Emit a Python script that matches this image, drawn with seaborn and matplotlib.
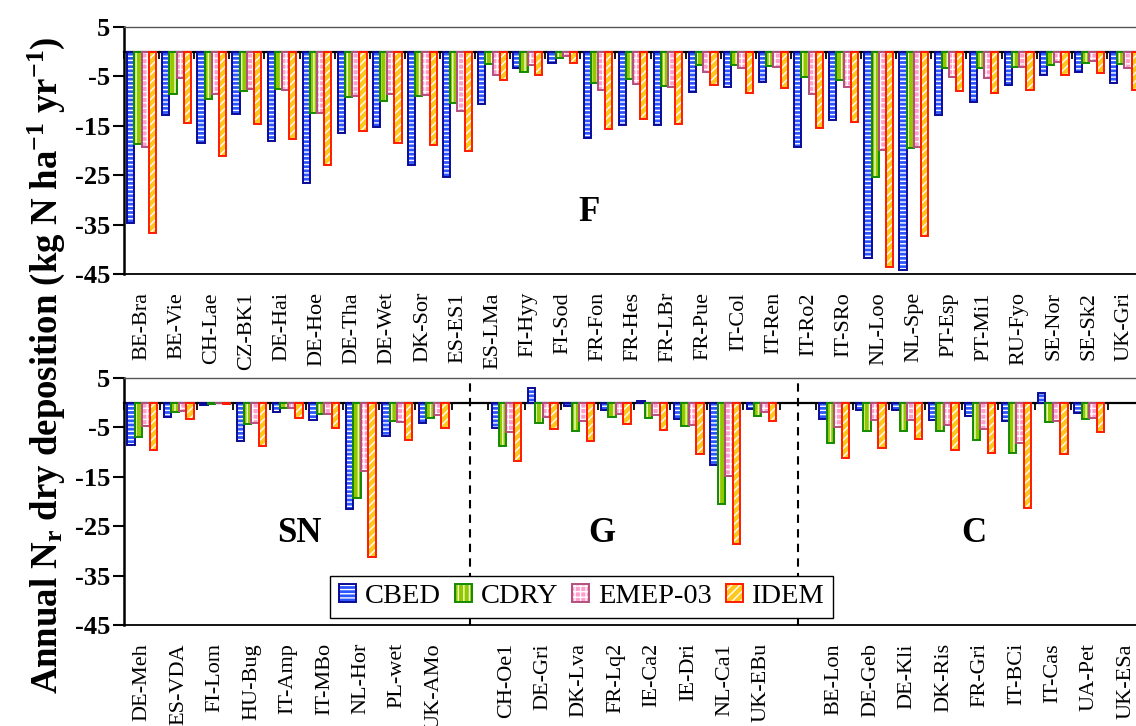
import numpy as np
import pandas as pd
import matplotlib
matplotlib.use("Agg")
import matplotlib.pyplot as plt
from matplotlib.patches import Rectangle, Patch
from matplotlib.legend_handler import HandlerTuple
from matplotlib import font_manager as fm
import seaborn as sns

nan = np.nan

models = ["CBED", "CDRY", "EMEP-03", "IDEM"]

# ---------------- Top panel (F) ----------------
sites_F = ["BE-Bra", "BE-Vie", "CH-Lae", "CZ-BK1", "DE-Hai", "DE-Hoe", "DE-Tha", "DE-Wet",
           "DK-Sor", "ES-ES1", "ES-LMa", "FI-Hyy", "FI-Sod", "FR-Fon", "FR-Hes", "FR-LBr",
           "FR-Pue", "IT-Col", "IT-Ren", "IT-Ro2", "IT-SRo", "NL-Loo", "NL-Spe", "PT-Esp",
           "PT-Mi1", "RU-Fyo", "SE-Nor", "SE-Sk2", "UK-Gri"]
cbed_F = [-34.6, -12.9, -18.5, -12.7, -18.1, -26.6, -16.4, -15.2, -23.0, -25.4, -10.5, -3.4,
          -2.2, -17.5, -14.8, -14.9, -8.1, -7.1, -6.2, -19.2, -13.9, -41.8, -44.1, -12.8,
          -10.2, -6.8, -4.7, -4.1, -6.3]
cdry_F = [-18.6, -8.6, -9.6, -7.9, -7.5, -12.5, -9.1, -10.0, -8.9, -10.4, -2.4, -4.2,
          -1.2, -6.4, -5.6, -7.0, -2.6, -2.7, -2.9, -5.2, -5.8, -25.4, -19.5, -3.4,
          -3.4, -3.0, -2.6, -2.2, -2.5]
emep_F = [-19.3, -5.4, -8.5, -7.5, -7.8, -12.4, -9.0, -8.5, -8.8, -12.1, -4.7, -2.6,
          -0.9, -7.8, -6.6, -7.2, -4.1, -3.4, -3.0, -8.6, -7.1, -19.8, -19.2, -5.1,
          -5.4, -3.0, -2.0, -1.8, -3.3]
idem_F = [-36.8, -14.4, -21.1, -14.7, -17.6, -23.0, -16.0, -18.4, -18.8, -20.2, -5.8, -4.7,
          -2.3, -15.6, -13.7, -14.6, -6.7, -8.3, -7.4, -15.5, -14.2, -43.5, -37.3, -7.9,
          -8.3, -7.7, -4.7, -4.4, -7.8]

# ---------------- Bottom panel (SN, G, C) ----------------
sites_SN = ["DE-Meh", "ES-VDA", "FI-Lom", "HU-Bug", "IT-Amp", "IT-MBo", "NL-Hor", "PL-wet", "UK-AMo"]
cbed_SN = [-8.5, -2.8, -0.4, -7.7, -1.9, -3.5, -21.5, -6.8, -4.1]
cdry_SN = [-7.0, -1.8, -0.3, -4.3, -1.0, -2.2, -19.3, -3.8, -3.0]
emep_SN = [-4.7, -1.6, -0.15, -4.1, -1.0, -2.2, -13.9, -4.0, -2.4]
idem_SN = [-9.6, -3.4, -0.3, -8.8, -3.0, -5.1, -31.3, -7.5, -5.1]

sites_G = ["CH-Oe1", "DE-Gri", "DK-Lva", "FR-Lq2", "IE-Ca2", "IE-Dri", "NL-Ca1", "UK-EBu"]
cbed_G = [-5.1, 3.0, -0.75, -1.4, 0.4, -3.3, -12.6, -1.2]
cdry_G = [-8.7, -4.2, -5.7, -2.8, -3.0, -4.8, -20.5, -2.6]
emep_G = [-6.0, -2.8, -3.7, -2.3, -2.4, -4.6, -14.8, -1.8]
idem_G = [-11.9, -5.3, -7.8, -4.3, -5.6, -10.4, -28.7, -3.8]

sites_C = ["BE-Lon", "DE-Geb", "DE-Kli", "DK-Ris", "FR-Gri", "IT-BCi", "IT-Cas", "UA-Pet", "UK-ESa"]
cbed_C = [-3.3, -1.4, -1.4, -3.5, -2.6, -3.7, 1.9, -2.1, nan]
cdry_C = [-8.1, -5.8, -5.8, -5.8, -7.5, -10.2, -3.9, -3.3, nan]
emep_C = [-4.9, -3.5, -3.5, -4.6, -5.3, -8.1, -3.7, -3.1, nan]
idem_C = [-11.2, -9.1, -7.4, -9.6, -10.2, -21.3, -10.3, -5.9, nan]

panel_labels_top = ["F"]
panel_labels_bottom = ["SN", "G", "C"]
yticks = [5, -5, -15, -25, -35, -45]

# ---------------- styling ----------------
sns.set_style("ticks")
SERIF = ["Liberation Serif", "DejaVu Serif"]
plt.rcParams["font.family"] = SERIF
plt.rcParams["mathtext.fontset"] = "custom"
plt.rcParams["mathtext.rm"] = "Liberation Serif:bold"
plt.rcParams["mathtext.it"] = "Liberation Serif:bold"
plt.rcParams["mathtext.bf"] = "Liberation Serif:bold"
plt.rcParams["mathtext.default"] = "rm"
plt.rcParams["axes.unicode_minus"] = False
plt.rcParams["hatch.linewidth"] = 1.0
for k in ["text.color", "axes.labelcolor", "xtick.color", "ytick.color", "axes.edgecolor"]:
    plt.rcParams[k] = "black"

face = {"CBED": "#2b55ff", "CDRY": "#92c800", "EMEP-03": "#ff9fcc", "IDEM": "#ffc81e"}
hatch_col = {"CBED": "white", "CDRY": "#f4ffd0", "EMEP-03": "white", "IDEM": "white"}
hatches = {"CBED": "----", "CDRY": "|||", "EMEP-03": "+++", "IDEM": "////"}
edge = {"CBED": "#0a0a96", "CDRY": "#138a00", "EMEP-03": "#b4507e", "IDEM": "#ff1a00"}


def fp(size, bold=False):
    return fm.FontProperties(family=SERIF, size=size, weight="bold" if bold else "normal")


def make_df(sites, cols):
    rows = []
    for m, vals in zip(models, cols):
        for s, v in zip(sites, vals):
            if not np.isnan(v):
                rows.append({"site": s, "model": m, "value": v})
    return pd.DataFrame(rows)


def style_bars(ax):
    for cont, m in zip(ax.containers, models):
        for bar in cont:
            bar.set_facecolor(face[m])
            bar.set_hatch(hatches[m])
            bar.set_edgecolor(hatch_col[m])
            bar.set_linewidth(0)
            ax.add_patch(Rectangle(bar.get_xy(), bar.get_width(), bar.get_height(),
                                   fill=False, edgecolor=edge[m], linewidth=1.4,
                                   zorder=bar.get_zorder() + 0.1))


def format_axes(ax, order, labels):
    n = len(order)
    ax.set_ylim(-45, 5)
    ax.set_xlim(-0.5, n - 0.5)
    ax.set_yticks(yticks)
    ax.set_yticklabels([str(t) for t in yticks], fontproperties=fp(19, True), color="black")
    ax.set_xticks(range(n))
    ax.set_xticklabels(labels, rotation=90, fontproperties=fp(16), color="black")
    ax.set_xlabel("")
    ax.set_ylabel("")
    ax.tick_params(axis="x", length=0, pad=13)
    ax.tick_params(axis="y", direction="out", length=8, width=1.5, pad=2, color="black")
    ax.spines["left"].set_linewidth(1.8)
    ax.spines["left"].set_color("black")
    ax.spines["bottom"].set_linewidth(1.3)
    ax.spines["bottom"].set_color("black")
    ax.spines["top"].set_visible(True)
    ax.spines["top"].set_linewidth(1.0)
    ax.spines["top"].set_color("#555555")
    ax.spines["right"].set_visible(False)
    # zero line with boundary ticks
    sec = ax.secondary_xaxis(0.9)
    sec.set_alignment("bottom")
    sec.set_xticks(np.arange(-0.5, n, 1.0))
    sec.tick_params(axis="x", direction="out", length=5, width=1.3, color="black",
                    labelbottom=False, labeltop=False)
    sec.spines["bottom"].set_linewidth(1.6)
    sec.spines["bottom"].set_color("black")


fig = plt.figure(figsize=(11.36, 7.26), dpi=100)
ax1 = fig.add_axes([124 / 1136, 1 - 274 / 726, 1018 / 1136, 247 / 726])
ax2 = fig.add_axes([124 / 1136, 1 - 625 / 726, 1020 / 1136, 247 / 726])

pal = [face[m] for m in models]

# top
df_top = make_df(sites_F, [cbed_F, cdry_F, emep_F, idem_F])
sns.barplot(data=df_top, x="site", y="value", hue="model", order=sites_F, hue_order=models,
            palette=pal, width=0.82, errorbar=None, legend=False, ax=ax1)
style_bars(ax1)
format_axes(ax1, sites_F, sites_F)

# bottom
gap1, gap2 = " ", "  "
order_bot = sites_SN + [gap1] + sites_G + [gap2] + sites_C
df_bot = pd.concat([make_df(sites_SN, [cbed_SN, cdry_SN, emep_SN, idem_SN]),
                    make_df(sites_G, [cbed_G, cdry_G, emep_G, idem_G]),
                    make_df(sites_C, [cbed_C, cdry_C, emep_C, idem_C])], ignore_index=True)
sns.barplot(data=df_bot, x="site", y="value", hue="model", order=order_bot, hue_order=models,
            palette=pal, width=0.82, errorbar=None, legend=False, ax=ax2)
style_bars(ax2)
format_axes(ax2, order_bot, [s.strip() for s in order_bot])
for g in (gap1, gap2):
    ax2.axvline(order_bot.index(g), color="black", lw=1.5, ls=(0, (4, 3)), zorder=1)

# panel letters
ax1.text(0.457, 0.247, panel_labels_top[0], transform=ax1.transAxes, ha="center", va="center",
         fontproperties=fp(25, True), color="black")
for lab, xf in zip(panel_labels_bottom, [0.172, 0.468, 0.833]):
    ax2.text(xf, 0.372, lab, transform=ax2.transAxes, ha="center", va="center",
             fontproperties=fp(25, True), color="black")

# y label
fig.text(0.041, 0.497, "Annual N$_{r}$ dry deposition (kg N ha$^{-1}$ yr$^{-1}$)",
         rotation=90, ha="center", va="center", fontproperties=fp(26.5, True), color="black")

# legend
handles = []
for m in models:
    p1 = Patch(facecolor=face[m], hatch=hatches[m], edgecolor=hatch_col[m], linewidth=0)
    p2 = Patch(fill=False, edgecolor=edge[m], linewidth=1.4)
    handles.append((p1, p2))
leg = fig.legend(handles, models, handler_map={tuple: HandlerTuple(ndivide=1)},
                 loc="center", bbox_to_anchor=(0.512, 0.178), ncol=4, prop=fp(20.5),
                 frameon=True, fancybox=False, framealpha=1, edgecolor="black",
                 handlelength=0.6, handleheight=0.6, handletextpad=0.3,
                 columnspacing=0.5, borderpad=0.3)
leg.get_frame().set_linewidth(1.0)
for t in leg.get_texts():
    t.set_color("black")

fig.savefig("out.png", dpi=100, facecolor="white")
